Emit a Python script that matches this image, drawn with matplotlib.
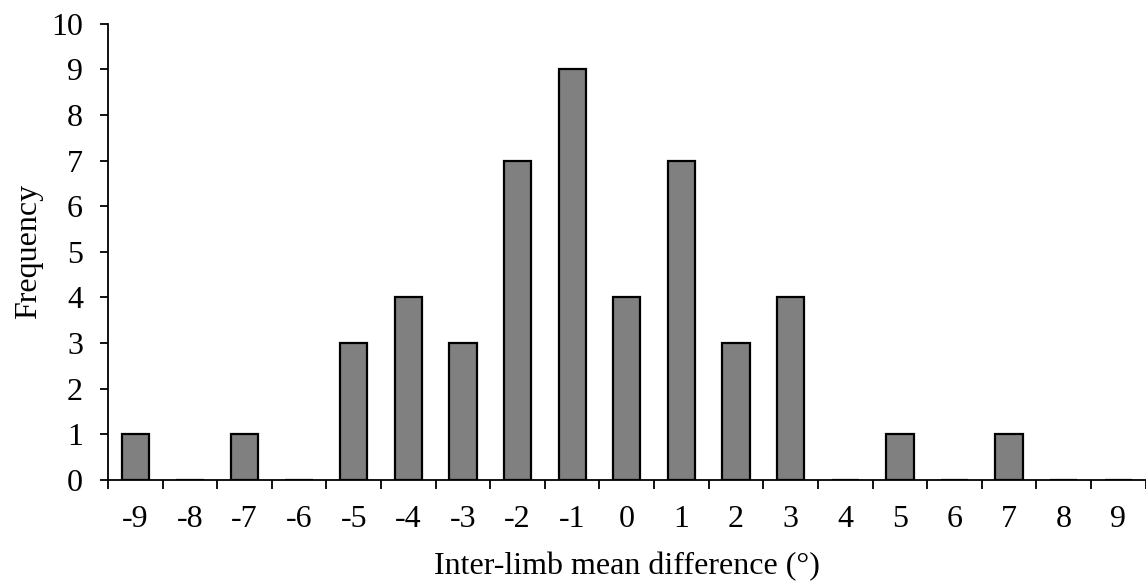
import numpy as np
import matplotlib.pyplot as plt

# histogram of inter-limb mean difference
diffs = [-9, -8, -7, -6, -5, -4, -3, -2, -1, 0, 1, 2, 3, 4, 5, 6, 7, 8, 9]
freq = [1, 0, 1, 0, 3, 4, 3, 7, 9, 4, 7, 3, 4, 0, 1, 0, 1, 0, 0]
y_ticks = list(range(0, 11))

plt.rcParams["font.family"] = ["Liberation Serif", "DejaVu Serif"]

fig = plt.figure(figsize=(11.46, 5.81), dpi=100)
ax = fig.add_axes([0.0942, 0.174, 0.9055, 0.785])

pos = np.arange(len(diffs))
ax.bar(pos, freq, width=0.5, color="#808080", edgecolor="black", linewidth=1.6, zorder=3)

ax.set_xlim(-0.5, len(diffs) - 0.5)
ax.set_ylim(0, 10)
ax.set_yticks(y_ticks)
ax.set_yticklabels([str(v) for v in y_ticks], fontsize=23)

# ticks sit between categories, labels at centres
ax.set_xticks(np.arange(len(diffs) + 1) - 0.5)
ax.set_xticklabels([])
ax.set_xticks(pos, minor=True)
ax.set_xticklabels([str(d) for d in diffs], minor=True, fontsize=23)
ax.tick_params(axis="x", which="major", direction="out", length=6.5, width=1.3, color="black")
ax.tick_params(axis="x", which="minor", length=0, pad=18)
ax.tick_params(axis="y", direction="out", length=6, width=1.3, pad=12)

for side in ["top", "right"]:
    ax.spines[side].set_visible(False)
for side in ["left", "bottom"]:
    ax.spines[side].set_linewidth(1.3)
    ax.spines[side].set_zorder(4)

ax.set_xlabel("Inter-limb mean difference (°)", fontsize=23, labelpad=13)
ax.set_ylabel("Frequency", fontsize=23, labelpad=6)

fig.savefig("out.png", dpi=100)
